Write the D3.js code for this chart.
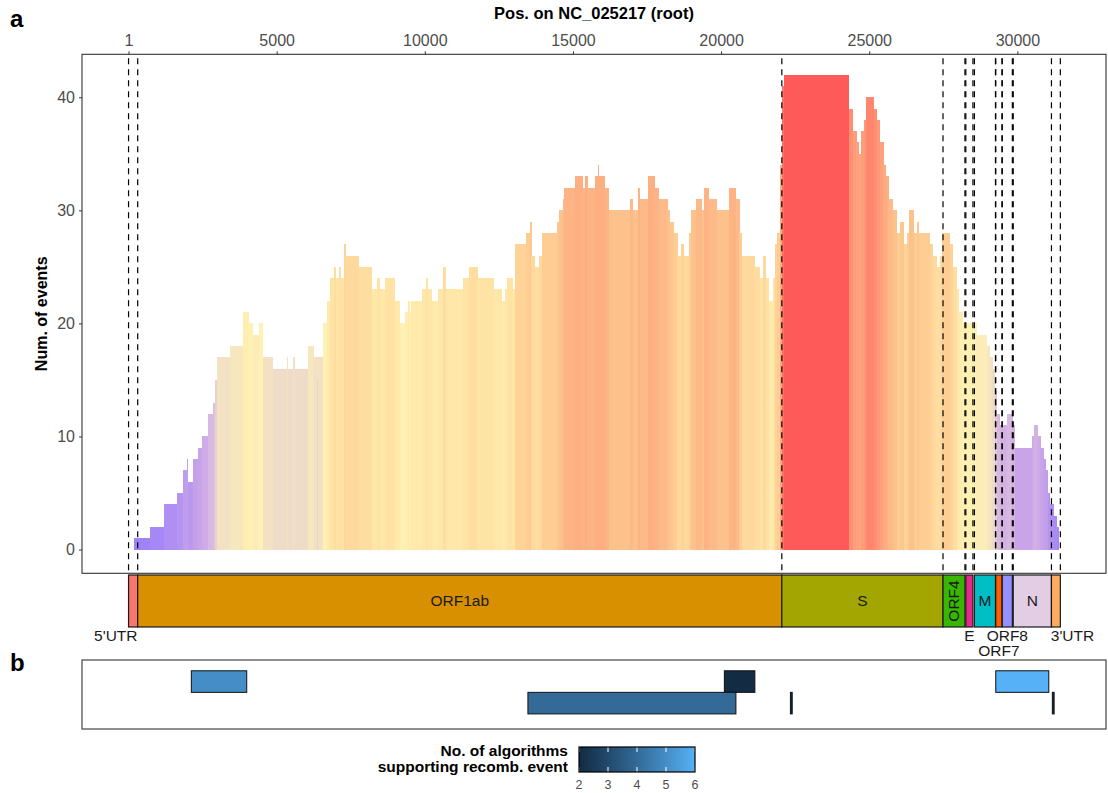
<!DOCTYPE html>
<html>
<head>
<meta charset="utf-8">
<script src="https://d3js.org/d3.v7.min.js"></script>
<style>
  body { margin: 0; background: #fff; }
  svg { display: block; font-family: 'Liberation Sans', Arial, sans-serif; }
</style>
</head>
<body>
<div id="chart"></div>
<script>
// ---- data ----
// coverage profile: each step starts at stepStarts[i] (bp) and runs to the next start
const stepStarts = [180, 740, 1200, 1650, 1840, 1970, 2010, 2180, 2360, 2480, 2690, 2840, 2910, 3000, 3420, 3850, 4040, 4190, 4400, 4540,
  4860, 5350, 5380, 5550, 5590, 6060, 6230, 6370, 6410, 6560, 6700, 6790, 6930, 7000, 7110, 7150, 7270, 7310, 7770, 8220,
  8390, 8480, 8650, 8990, 9160, 9330, 9430, 9470, 9550, 9920, 10030, 10110, 10230, 10450, 10620, 10710, 11290, 11500, 11770, 12330,
  12590, 12700, 12760, 12960, 13040, 13430, 13560, 13600, 13710, 13860, 13940, 14470, 14530, 14650, 14690, 15060, 15310, 15420, 15480, 15740,
  15830, 15860, 16080, 16220, 16920, 17030, 17200, 17250, 17520, 17740, 17890, 18180, 18270, 18400, 18520, 18660, 18750, 18920, 19000, 19150,
  19340, 19430, 19580, 19850, 20270, 20500, 20610, 20690, 21140, 21310, 21420, 21510, 21620, 21740, 21810, 21890, 21980, 22040, 22120, 24320,
  24440, 24570, 24650, 24720, 24830, 24880, 25160, 25250, 25360, 25470, 25560, 25640, 25790, 25940, 26030, 26170, 26260, 26350, 26500, 26600,
  26680, 27040, 27140, 27270, 27380, 27470, 27720, 27830, 27950, 28030, 28150, 28620, 28960, 29070, 29160, 29240, 29300, 29410, 29650, 29830,
  29910, 30480, 30550, 30670, 30780, 30870, 30950, 31030, 31090, 31210, 31340];
const stepCounts = [1, 2, 4, 5, 7, 8, 6, 8, 9, 10, 12, 13, 15, 17, 18, 21, 20, 19, 20, 17,
  16, 17, 16, 17, 16, 18, 17, 15, 17, 20, 22, 24, 25, 24, 25, 24, 27, 26, 25, 23,
  24, 23, 24, 22, 20, 21, 22, 21, 22, 23, 24, 23, 22, 23, 25, 23, 24, 25, 24, 23,
  22, 23, 24, 23, 27, 28, 29, 26, 25, 26, 28, 29, 30, 31, 32, 33, 32, 33, 32, 33,
  34, 33, 32, 30, 31, 30, 32, 31, 33, 32, 31, 30, 29, 28, 26, 27, 26, 28, 30, 31,
  30, 32, 31, 30, 32, 31, 28, 26, 25, 24, 26, 24, 22, 24, 27, 28, 34, 41, 42, 39,
  37, 36, 35, 37, 38, 40, 39, 38, 36, 34, 33, 31, 30, 28, 29, 27, 28, 30, 28, 29,
  28, 27, 26, 25, 26, 28, 27, 25, 23, 21, 20, 19, 18, 17, 16, 14, 12, 11, 12, 11,
  9, 10, 11, 10, 9, 8, 7, 5, 4, 3, 2];
const profileEnd = 31400;
const genomeLength = 31420;

// genome annotation
const geneNames = ["5'UTR", 'ORF1ab', 'S', 'ORF4', 'E', 'M', 'ORF7', 'ORF8', 'N', "3'UTR"];
const geneStarts = [1, 310, 22050, 27490, 28260, 28550, 29270, 29490, 29860, 31150];
const geneEnds = [310, 22050, 27490, 28230, 28500, 29260, 29480, 29830, 31150, 31450];
const geneColors = ['#f8766d', '#d89000', '#a3a500', '#39b600', '#e7298a', '#00bfc4', '#ff5f00', '#9590ff', '#e2cde4', '#fdab5e'];
const geneLabelPlace = ['below', 'inside', 'inside', 'vertical', 'below', 'inside', 'below2', 'below', 'inside', 'below'];
const geneLabelPos = [-430, null, null, null, null, null, null, null, null, 31860];

// recombination events (panel b)
const eventStarts = [2120, 20110, 29270, 13480, 22340, 31180];
const eventEnds = [3990, 21140, 31060, 20500, 22400, 31240];
const eventRows = [1, 1, 1, 2, 2, 2];
const eventAlgorithms = [5, 2, 6, 4, 2, 2];

const xTicks = [1, 5000, 10000, 15000, 20000, 25000, 30000];
const yTicks = [0, 10, 20, 30, 40];
const legendTicks = [2, 3, 4, 5, 6];

// ---- layout ----
const width = 1108;
const height = 793;
const panelA = { left: 82, right: 1106, top: 54.3, bottom: 573.3 };
const genomeBar = { top: 575, bottom: 627 };
const panelB = { top: 660, bottom: 729 };
const axisGrey = '#4d4d4d';
const frameColor = '#333333';

const svg = d3.select('#chart')
  .append('svg')
  .attr('width', width)
  .attr('height', height);

const pad = 0.05 * (genomeLength - 1);
const x = d3.scaleLinear([1 - pad, genomeLength + pad], [panelA.left, panelA.right]);
const y = d3.scaleLinear([-2.1, 43.8], [panelA.bottom, panelA.top]);

const fill = d3.scaleLinear()
  .domain([1, 9, 13, 16, 20, 24, 28, 32, 38, 40, 42])
  .range(['#a083f7', '#c9a4e8', '#dcbfde', '#eedcc8', '#fff1b3', '#fee3a4', '#fdcd94', '#fdb484', '#fe9878', '#fe866c', '#ff5a5a']);

const steps = stepStarts.map((s, i) => ({
  start: s,
  end: i < stepStarts.length - 1 ? stepStarts[i + 1] : profileEnd,
  count: stepCounts[i],
}));

// ---- panel a: coverage ----
svg.append('g')
  .attr('shape-rendering', 'crispEdges')
  .selectAll('rect')
  .data(steps)
  .join('rect')
  .attr('x', (d) => x(d.start))
  .attr('width', (d) => x(d.end) - x(d.start) + 0.4)
  .attr('y', (d) => y(d.count))
  .attr('height', (d) => y(0) - y(d.count))
  .attr('fill', (d) => fill(d.count));

const genes = geneNames.map((name, i) => ({
  name,
  start: geneStarts[i],
  end: geneEnds[i],
  color: geneColors[i],
  place: geneLabelPlace[i],
  pos: geneLabelPos[i],
}));

// dashed boundaries at every gene start and end
const boundaries = Array.from(new Set(geneStarts.concat(geneEnds)));
svg.append('g')
  .selectAll('line')
  .data(boundaries)
  .join('line')
  .attr('x1', (d) => x(d))
  .attr('x2', (d) => x(d))
  .attr('y1', panelA.top + 4)
  .attr('y2', panelA.bottom)
  .attr('stroke', '#000')
  .attr('stroke-width', 1.2)
  .attr('stroke-dasharray', '6,5');

svg.append('rect')
  .attr('x', panelA.left)
  .attr('y', panelA.top)
  .attr('width', panelA.right - panelA.left)
  .attr('height', panelA.bottom - panelA.top)
  .attr('fill', 'none')
  .attr('stroke', frameColor)
  .attr('stroke-width', 1.1);

// top x axis
svg.append('g')
  .attr('transform', `translate(0,${panelA.top})`)
  .call(d3.axisTop(x).tickValues(xTicks).tickFormat(d3.format('d')).tickSize(3).tickPadding(5))
  .call((g) => g.select('.domain').remove())
  .call((g) => g.selectAll('line').attr('stroke', frameColor))
  .call((g) => g.selectAll('text').attr('fill', axisGrey).attr('font-size', 16).attr('font-family', null));

// left y axis
svg.append('g')
  .attr('transform', `translate(${panelA.left},0)`)
  .call(d3.axisLeft(y).tickValues(yTicks).tickSize(3).tickPadding(4))
  .call((g) => g.select('.domain').remove())
  .call((g) => g.selectAll('line').attr('stroke', frameColor))
  .call((g) => g.selectAll('text').attr('fill', axisGrey).attr('font-size', 16).attr('font-family', null));

svg.append('text')
  .attr('x', (panelA.left + panelA.right) / 2)
  .attr('y', 19)
  .attr('text-anchor', 'middle')
  .attr('font-weight', 'bold')
  .attr('font-size', 16.5)
  .text('Pos. on NC_025217 (root)');

svg.append('text')
  .attr('transform', `translate(47,${(panelA.top + panelA.bottom) / 2}) rotate(-90)`)
  .attr('text-anchor', 'middle')
  .attr('font-weight', 'bold')
  .attr('font-size', 16)
  .text('Num. of events');

// ---- genome bar ----
const bar = svg.append('g');
bar.selectAll('rect')
  .data(genes)
  .join('rect')
  .attr('x', (d) => x(d.start))
  .attr('width', (d) => x(d.end) - x(d.start))
  .attr('y', genomeBar.top)
  .attr('height', genomeBar.bottom - genomeBar.top)
  .attr('fill', (d) => d.color)
  .attr('stroke', '#1a1a1a')
  .attr('stroke-width', 1.2);

const barMid = (genomeBar.top + genomeBar.bottom) / 2;
bar.selectAll('text')
  .data(genes)
  .join('text')
  .attr('font-size', 15.5)
  .attr('fill', '#1a1a1a')
  .attr('text-anchor', 'middle')
  .attr('dy', '0.35em')
  .attr('transform', (d) => {
    const cx = x(d.pos !== null ? d.pos : (d.start + d.end) / 2);
    if (d.place === 'vertical') return `translate(${cx},${barMid}) rotate(-90)`;
    if (d.place === 'below') return `translate(${cx},${genomeBar.bottom + 9})`;
    if (d.place === 'below2') return `translate(${cx},${genomeBar.bottom + 24})`;
    return `translate(${cx},${barMid})`;
  })
  .text((d) => d.name);

// ---- panel b: recombination events ----
const yb = d3.scaleLinear([0, 3.2], [panelB.top, panelB.bottom]);
const algColor = d3.scaleLinear([2, 6], ['#132b43', '#56b1f7']).interpolate(d3.interpolateLab);

const events = eventStarts.map((s, i) => ({
  start: s,
  end: eventEnds[i],
  row: eventRows[i],
  n: eventAlgorithms[i],
}));

svg.append('rect')
  .attr('x', panelA.left)
  .attr('y', panelB.top)
  .attr('width', panelA.right - panelA.left)
  .attr('height', panelB.bottom - panelB.top)
  .attr('fill', 'none')
  .attr('stroke', frameColor)
  .attr('stroke-width', 1.1);

svg.append('g')
  .selectAll('rect')
  .data(events)
  .join('rect')
  .attr('x', (d) => x(d.start))
  .attr('width', (d) => x(d.end) - x(d.start))
  .attr('y', (d) => yb(d.row - 0.5))
  .attr('height', (d) => yb(d.row + 0.5) - yb(d.row - 0.5))
  .attr('fill', (d) => algColor(d.n))
  .attr('stroke', '#111')
  .attr('stroke-width', 1);

// ---- legend ----
const lx = d3.scaleLinear([2, 6], [579, 695]);
const legendTop = 747;
const legendBottom = 772;
const defs = svg.append('defs');
const grad = defs.append('linearGradient').attr('id', 'algGrad');
grad.selectAll('stop')
  .data(d3.range(0, 1.0001, 0.1))
  .join('stop')
  .attr('offset', (d) => d)
  .attr('stop-color', (d) => algColor(2 + 4 * d));

const legend = svg.append('g');
legend.append('rect')
  .attr('x', lx(2))
  .attr('y', legendTop)
  .attr('width', lx(6) - lx(2))
  .attr('height', legendBottom - legendTop)
  .attr('fill', 'url(#algGrad)');

legend.selectAll('line.top')
  .data(legendTicks)
  .join('line')
  .attr('class', 'top')
  .attr('x1', (d) => lx(d))
  .attr('x2', (d) => lx(d))
  .attr('y1', legendTop)
  .attr('y2', legendTop + 5)
  .attr('stroke', '#fff');

legend.selectAll('line.bottom')
  .data(legendTicks)
  .join('line')
  .attr('class', 'bottom')
  .attr('x1', (d) => lx(d))
  .attr('x2', (d) => lx(d))
  .attr('y1', legendBottom - 5)
  .attr('y2', legendBottom)
  .attr('stroke', '#fff');

legend.append('rect')
  .attr('x', lx(2))
  .attr('y', legendTop)
  .attr('width', lx(6) - lx(2))
  .attr('height', legendBottom - legendTop)
  .attr('fill', 'none')
  .attr('stroke', '#000')
  .attr('stroke-width', 1.2);

legend.selectAll('text.tick')
  .data(legendTicks)
  .join('text')
  .attr('class', 'tick')
  .attr('x', (d) => lx(d))
  .attr('y', 789)
  .attr('text-anchor', 'middle')
  .attr('font-size', 12.5)
  .attr('fill', axisGrey)
  .text((d) => d);

legend.append('text')
  .attr('text-anchor', 'end')
  .attr('font-weight', 'bold')
  .attr('font-size', 15.5)
  .selectAll('tspan')
  .data(['No. of algorithms', 'supporting recomb. event'])
  .join('tspan')
  .attr('x', 568)
  .attr('y', (d, i) => 756 + i * 15.5)
  .text((d) => d);

// panel tags
svg.append('text').attr('x', 10).attr('y', 27).attr('font-weight', 'bold').attr('font-size', 24).text('a');
svg.append('text').attr('x', 10).attr('y', 671).attr('font-weight', 'bold').attr('font-size', 24).text('b');
</script>
</body>
</html>
